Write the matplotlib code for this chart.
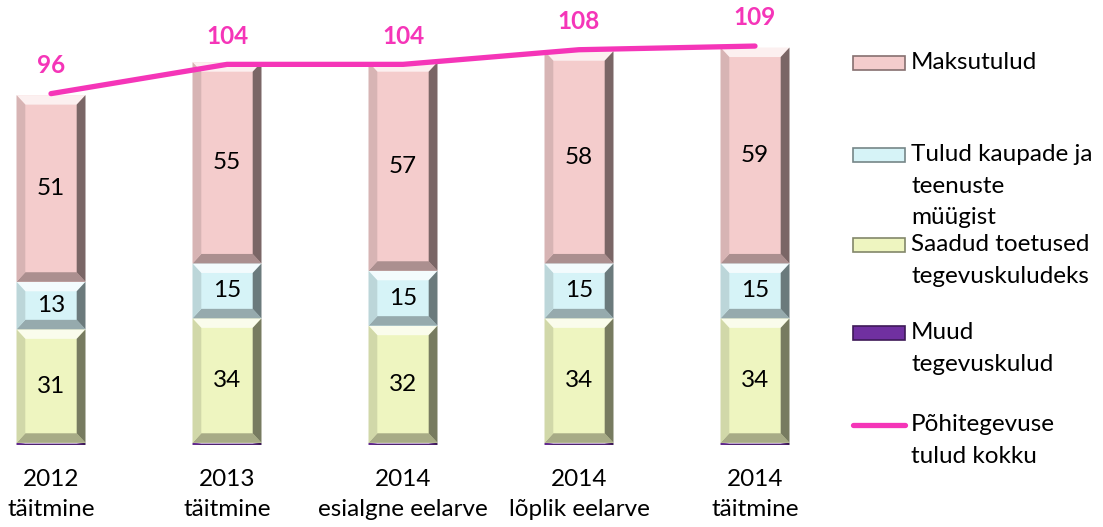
import numpy as np
import matplotlib
matplotlib.use('Agg')
import matplotlib.pyplot as plt
from matplotlib.colors import to_rgb

plt.rcParams['font.family'] = ['Lato', 'DejaVu Sans']

# data
categories = ['2012\ntäitmine', '2013\ntäitmine', '2014\nesialgne eelarve',
              '2014\nlõplik eelarve', '2014\ntäitmine']
muud = [0.6, 0.6, 0.6, 0.6, 0.6]
saadud = [31, 34, 32, 34, 34]
tulud_kaup = [13, 15, 15, 15, 15]
maksutulud = [51, 55, 57, 58, 59]
kokku = [96, 104, 104, 108, 109]

series = [
    ('Muud\ntegevuskulud', muud, '#7030A0', False),
    ('Saadud toetused\ntegevuskuludeks', saadud, '#EEF5C0', True),
    ('Tulud kaupade ja\nteenuste\nmüügist', tulud_kaup, '#D6F3F7', True),
    ('Maksutulud', maksutulud, '#F4CCCC', True),
]
line_color = '#F535B8'
fs = 17.5


def shade(c, f):
    r = np.array(to_rgb(c))
    if f > 0:
        return tuple(r + (1 - r) * f)
    return tuple(r * (1 + f))


fig = plt.figure(figsize=(11.03, 5.27), dpi=100)
ax = fig.add_axes([0, 82 / 527, 830 / 1103, 445 / 527])

x = np.arange(len(categories))
w = 0.392
bx, by = 0.05, 2.6

bottom = np.zeros(len(categories))
for name, vals, col, show in series:
    vals = np.array(vals, dtype=float)
    ax.bar(x, vals, w, bottom=bottom, color=col, linewidth=0)
    for xi, b, h in zip(x, bottom, vals):
        x0, x1, y0, y1 = xi - w / 2, xi + w / 2, b, b + h
        dx, dy = min(bx, w / 2), min(by, h / 2)
        # bevel faces
        ax.fill([x0, x1, x1 - dx, x0 + dx], [y1, y1, y1 - dy, y1 - dy],
                color=shade(col, 0.7), lw=0)
        ax.fill([x0, x1, x1 - dx, x0 + dx], [y0, y0, y0 + dy, y0 + dy],
                color=shade(col, -0.3), lw=0)
        ax.fill([x0, x0 + dx, x0 + dx, x0], [y0, y0 + dy, y1 - dy, y1],
                color=shade(col, -0.12), lw=0)
        ax.fill([x1, x1 - dx, x1 - dx, x1], [y0, y0 + dy, y1 - dy, y1],
                color=shade(col, -0.5), lw=0)
        if show:
            ax.text(xi, b + h / 2, f'{h:g}', ha='center', va='center',
                    fontsize=fs, color='black')
    bottom += vals

ax.plot(x, kokku, color=line_color, lw=3.8, solid_capstyle='round')
for xi, v in zip(x, kokku):
    ax.annotate(str(v), (xi, v), xytext=(0, 12), textcoords='offset points',
                ha='center', va='bottom', fontsize=fs, fontweight='bold',
                color=line_color)

ax.set_xlim(-51 / 176, (830 - 51) / 176)
ax.set_ylim(0, 445 / 3.66)
ax.set_xticks(x)
ax.set_xticklabels(categories, fontsize=fs, linespacing=1.55)
ax.tick_params(axis='x', length=0, pad=17)
ax.set_yticks([])
for s in ax.spines.values():
    s.set_visible(False)

# legend drawn by hand
legend_items = [
    ('Maksutulud', '#F4CCCC', 63),
    ('Tulud kaupade ja\nteenuste\nmüügist', '#D6F3F7', 155),
    ('Saadud toetused\ntegevuskuludeks', '#EEF5C0', 245),
    ('Muud\ntegevuskulud', '#7030A0', 333),
    ('Põhitegevuse\ntulud kokku', None, 425),
]
W, H = 1103, 527
for label, col, ypix in legend_items:
    yf = 1 - ypix / H
    if col is None:
        fig.add_artist(plt.Line2D([853 / W, 905 / W], [yf, yf], color=line_color,
                                  lw=3.8, solid_capstyle='round'))
    else:
        fig.add_artist(plt.Rectangle((853 / W, yf - 7 / H), 52 / W, 14 / H,
                                     facecolor=col, edgecolor=shade(col, -0.45), lw=1.2))
    fig.text(911 / W, yf + 11 / H, label, ha='left', va='top', fontsize=fs,
             linespacing=1.62)

fig.savefig('out.png', dpi=100)
